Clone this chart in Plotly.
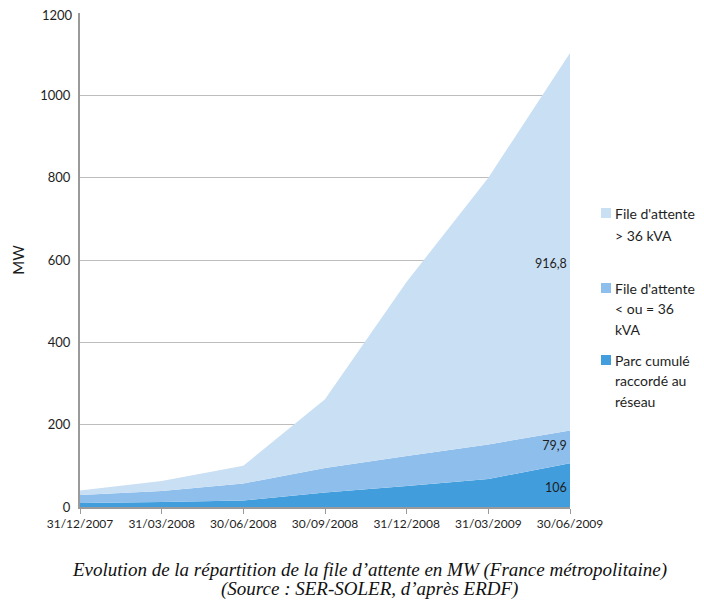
import plotly.graph_objects as go

dates = ["31/12/2007", "31/03/2008", "30/06/2008", "30/09/2008",
         "31/12/2008", "31/03/2009", "30/06/2009"]
parc_raccorde = [10, 12, 16, 35, 51, 68, 106]
attente_petit = [19, 27, 41, 60, 73, 84, 79.9]
attente_grand = [11, 24, 43, 167, 423, 648, 916.8]

y_ticks = [0, 200, 400, 600, 800, 1000, 1200]

names = [
    ["Parc cumulé", "raccordé au", "réseau"],
    ["File d'attente", "< ou = 36", "kVA"],
    ["File d'attente", "> 36 kVA"],
]
colors = ["rgb(65,157,220)", "rgb(142,190,235)", "rgb(201,223,243)"]
values = [parc_raccorde, attente_petit, attente_grand]

caption = [
    "Evolution de la répartition de la file d’attente en MW (France métropolitaine)",
    "(Source : SER-SOLER, d’après ERDF)",
]

OFF = 8  # page body margin
W, H = 696, 593
ML, MT = 80 - OFF, 13 - OFF
MR = W - (570 - OFF)
MB = H - (507 - OFF)
PW, PH = W - ML - MR, H - MT - MB


def px_x(p):
    return (p - OFF - ML) / PW


def px_y(p):
    return (H - MB - (p - OFF)) / PH


font_main = "Lato, 'Open Sans', sans-serif"
txt_col = "#1e1e1e"

fig = go.Figure()
for nm, vals, col in zip(names, values, colors):
    fig.add_trace(go.Scatter(
        x=dates, y=vals, name=" ".join(nm), mode="lines", stackgroup="one",
        line=dict(width=0, color=col), fillcolor=col,
        hoverinfo="skip", showlegend=False,
    ))

# data labels at the last category, inside each layer
last = len(dates) - 1
base = 0
lab_y, lab_t = [], []
for vals in values:
    v = vals[last]
    lab_y.append(base + v / 2)
    lab_t.append(("%g" % v).replace(".", ",") + " ")
    base += v
lab_y[0] -= 8
lab_y[2] -= 56
fig.add_trace(go.Scatter(
    x=[dates[last]] * 3, y=lab_y, text=lab_t, mode="text",
    textposition="middle left", showlegend=False, hoverinfo="skip",
    textfont=dict(family=font_main, size=12.5, color=txt_col),
))

# custom legend (top series first)
shapes, annots = [], []
legend_rows = [(2, 213, 22), (1, 288, 20.5), (0, 360, 21)]
for idx, ytop, step in legend_rows:
    shapes.append(dict(
        type="rect", xref="paper", yref="paper",
        xsizemode="pixel", ysizemode="pixel",
        xanchor=px_x(601), yanchor=px_y(ytop),
        x0=0, x1=10, y0=-5, y1=5,
        fillcolor=colors[idx], line=dict(width=0),
    ))
    for k, line in enumerate(names[idx]):
        annots.append(dict(
            xref="paper", yref="paper", x=px_x(613), y=px_y(ytop + k * step),
            xanchor="left", yanchor="middle", showarrow=False, text=line,
            font=dict(family=font_main, size=14, color=txt_col),
        ))

# top tick label (plotly hides it at the paper edge)
annots.append(dict(
    xref="paper", yref="y", x=0, y=y_ticks[-1], xanchor="right", yanchor="middle",
    xshift=-5, yshift=-2, showarrow=False, text=str(y_ticks[-1]),
    font=dict(family=font_main, size=13, color=txt_col),
))

for k, line in enumerate(caption):
    annots.append(dict(
        xref="paper", yref="paper", x=px_x(369), y=px_y(570 + k * 19),
        xanchor="center", yanchor="middle", showarrow=False,
        text="<i>" + line + "</i>",
        font=dict(family="'Liberation Serif', 'DejaVu Serif', serif", size=19, color="#111"),
    ))

fig.update_layout(
    width=W, height=H,
    margin=dict(l=ML, r=MR, t=MT, b=MB),
    paper_bgcolor="white", plot_bgcolor="white",
    font=dict(family=font_main, size=13, color=txt_col),
    showlegend=False,
    shapes=shapes, annotations=annots,
    xaxis=dict(
        type="category", range=[0, 6], showgrid=False, automargin=False,
        showline=True, linecolor="#9a9a9a", linewidth=1.5,
        ticks="outside", ticklen=5, tickcolor="#9a9a9a",
        tickfont=dict(size=12, color=txt_col), tickangle=0,
    ),
    yaxis=dict(
        range=[0, 1200], tickvals=y_ticks,
        ticktext=[str(t) for t in y_ticks[:-1]] + [""],
        showgrid=True, gridcolor="#bdbdbd", gridwidth=1.2, automargin=False,
        showline=True, linecolor="#9a9a9a", linewidth=2,
        tickfont=dict(size=13, color=txt_col), ticks="", ticklabelstandoff=5,
        title=dict(text="MW", font=dict(size=15, color=txt_col), standoff=12),
        zeroline=False,
    ),
)

fig.write_html("out.html")
